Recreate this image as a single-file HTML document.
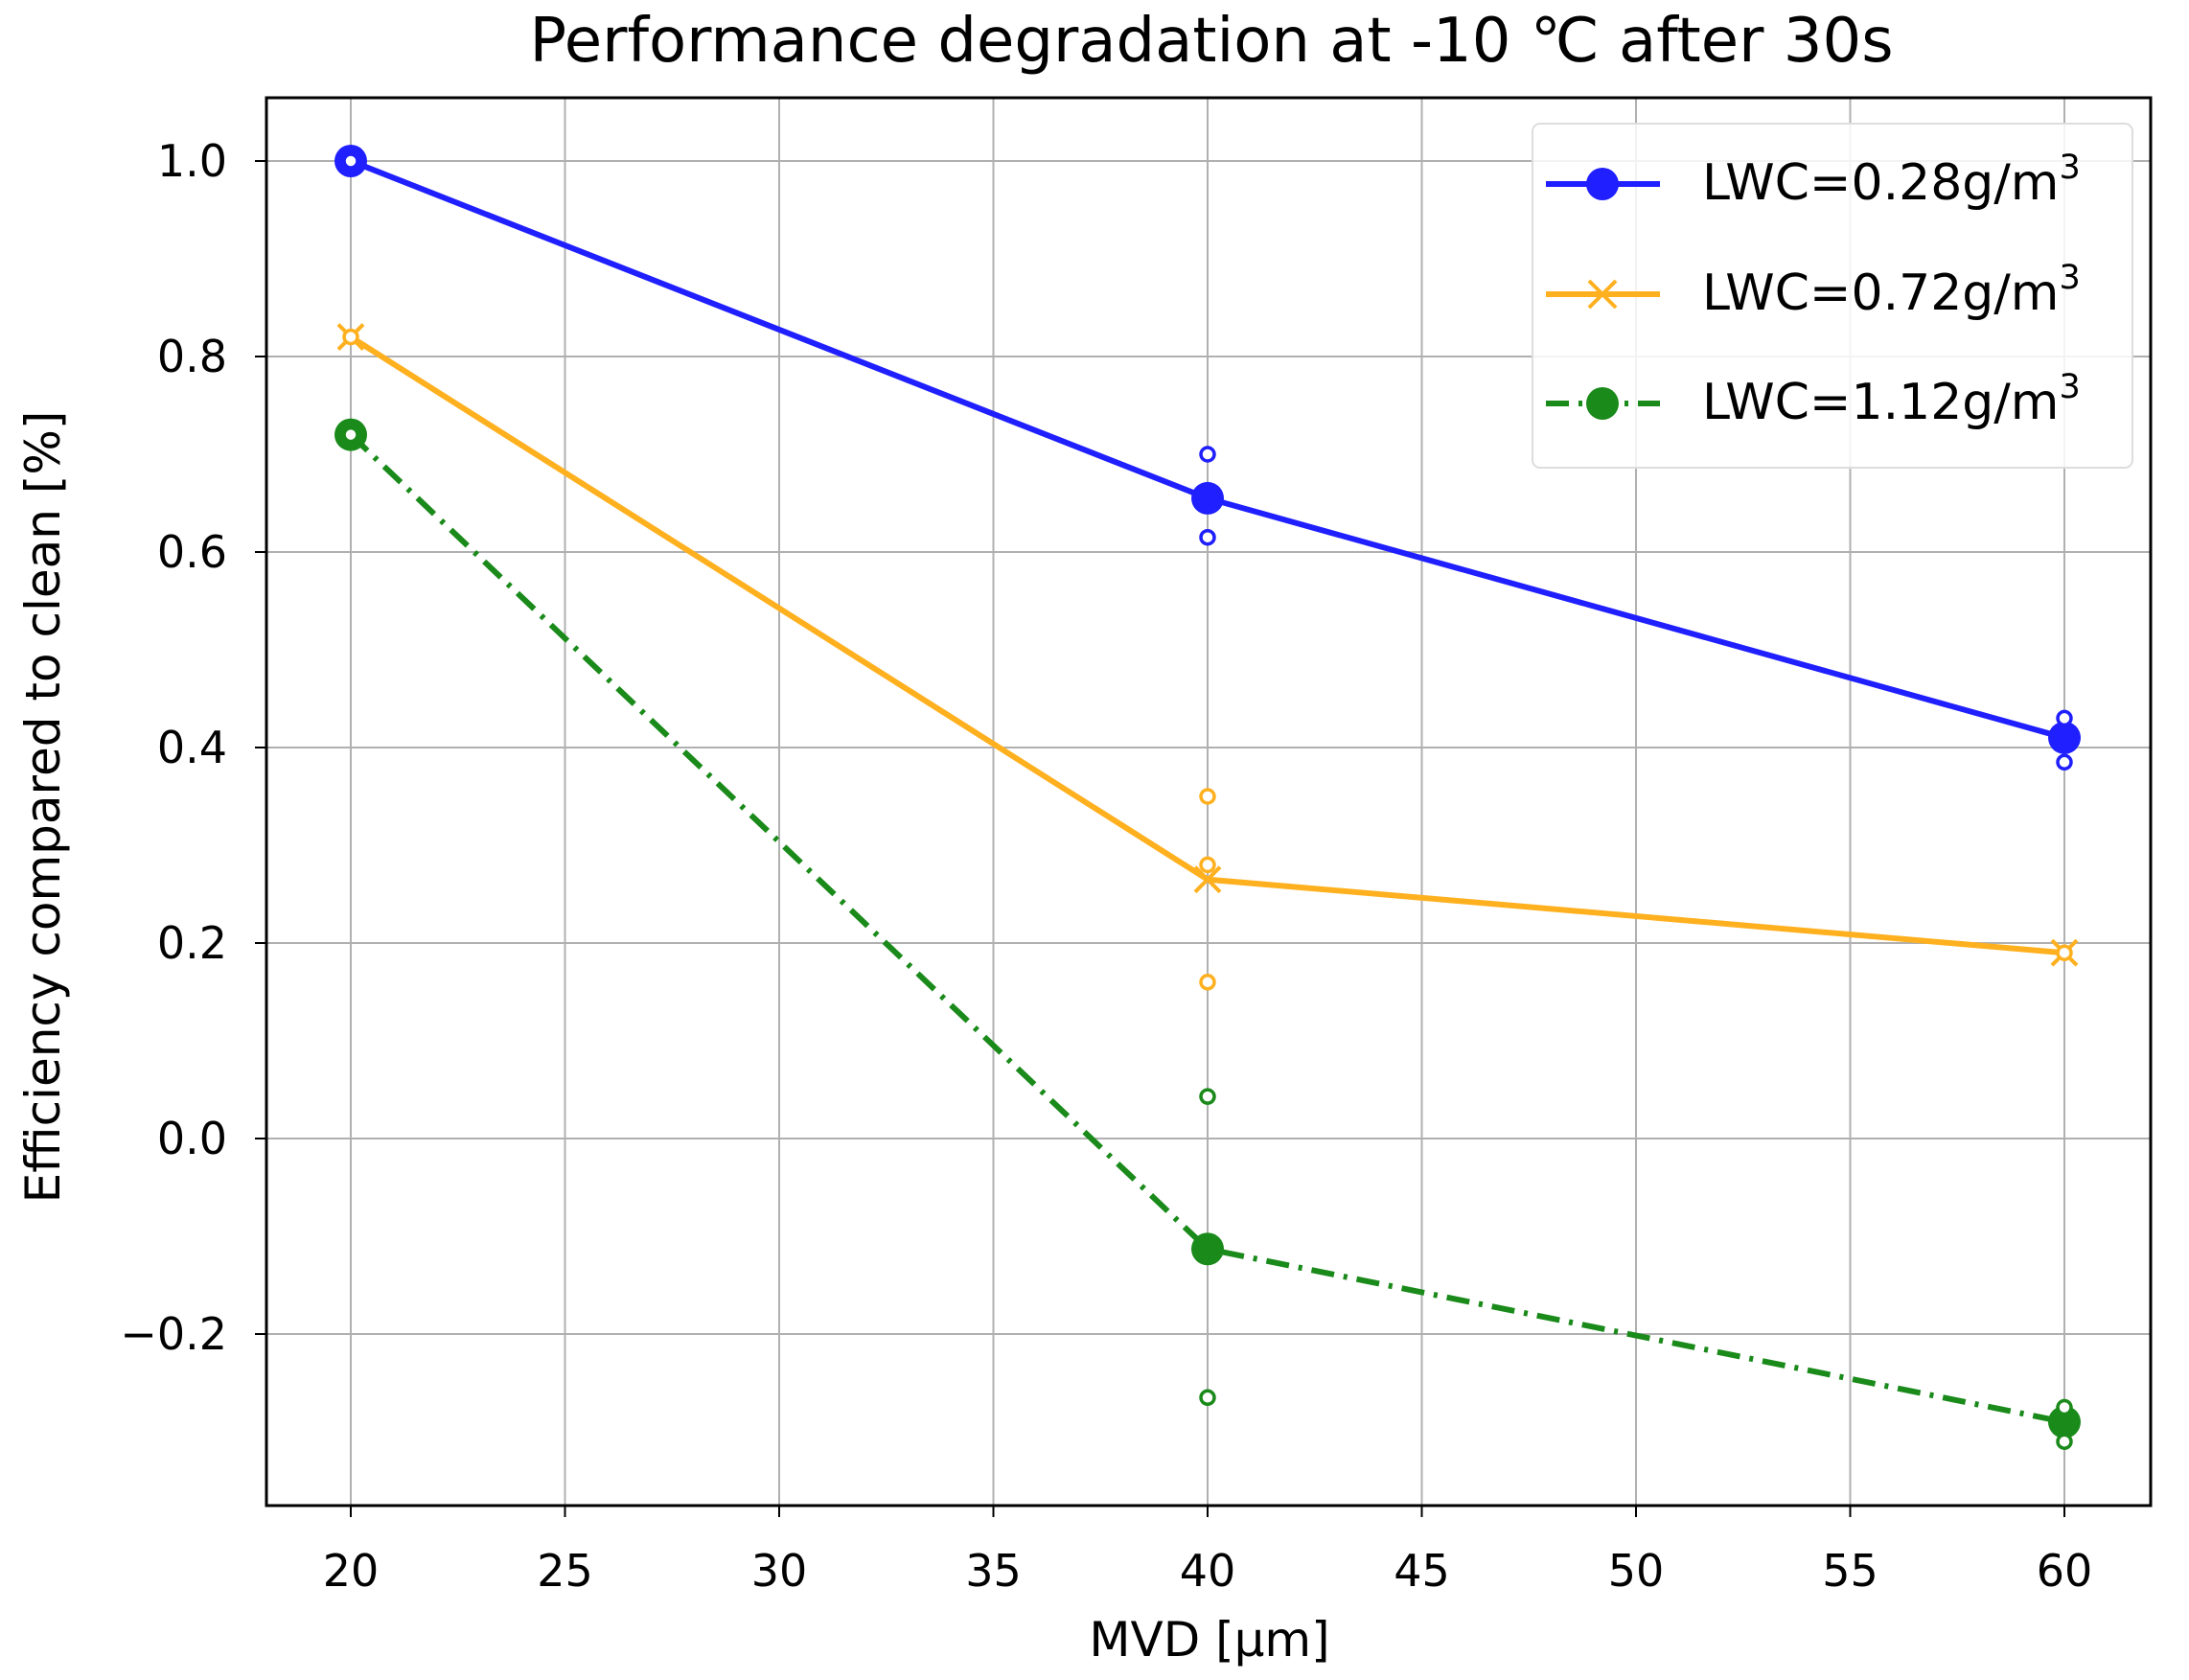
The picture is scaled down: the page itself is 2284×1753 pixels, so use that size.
<!DOCTYPE html>
<html><head><meta charset="utf-8"><style>
html,body{margin:0;padding:0;background:#fff;}
svg{display:block;font-family:"DejaVu Sans","Liberation Sans",sans-serif;}
</style></head><body>
<svg id="chart" width="2284" height="1753" viewBox="0 0 2284 1753">
<text x="1264" y="64" font-size="64" text-anchor="middle" fill="#000">Performance degradation at -10 ℃ after 30s</text>
<g id="grid"></g>
<g id="ticks"></g>
<g id="series"></g>
<rect x="278" y="102" width="1966" height="1469" fill="none" stroke="#000" stroke-width="3"/>
<text x="1262" y="1728" font-size="50" text-anchor="middle">MVD [μm]</text>
<text transform="translate(62,842) rotate(-90)" font-size="50" text-anchor="middle">Efficiency compared to clean [%]</text>
<g>
<rect x="1599" y="129" width="626" height="359" rx="8" fill="#fff" fill-opacity="0.85" stroke="#ddd" stroke-width="2"/>
<g>
<line x1="1613" y1="192" x2="1732" y2="192" stroke="#1f1fff" stroke-width="6"/>
<circle cx="1672" cy="192" r="17" fill="#1f1fff"/>
<text x="1776" y="208" font-size="52">LWC=0.28g/m<tspan dy="-22" font-size="35">3</tspan></text>
</g>
<g>
<line x1="1613" y1="307" x2="1732" y2="307" stroke="#ffb01f" stroke-width="6"/>
<path d="M1658 293 L1686 321 M1686 293 L1658 321" stroke="#ffb01f" stroke-width="4"/>
<text x="1776" y="323" font-size="52">LWC=0.72g/m<tspan dy="-22" font-size="35">3</tspan></text>
</g>
<g>
<line x1="1613" y1="421" x2="1732" y2="421" stroke="#1a8a1a" stroke-width="6" stroke-dasharray="24,10,4,10"/>
<circle cx="1672" cy="421" r="17" fill="#1a8a1a"/>
<text x="1776" y="437" font-size="52">LWC=1.12g/m<tspan dy="-22" font-size="35">3</tspan></text>
</g>
</g>
</svg>
<script>
const xCats = [20, 40, 60];
const xTicks = [20, 25, 30, 35, 40, 45, 50, 55, 60];
const yTicks = [-0.2, 0.0, 0.2, 0.4, 0.6, 0.8, 1.0];
const yTickLabels = ["\u22120.2", "0.0", "0.2", "0.4", "0.6", "0.8", "1.0"];
const blueVals = [1.0, 0.655, 0.41];
const orangeVals = [0.82, 0.265, 0.19];
const greenVals = [0.72, -0.113, -0.29];
const blueSpread = [[1.0], [0.70, 0.615], [0.43, 0.385]];
const orangeSpread = [[0.82], [0.35, 0.28, 0.16], [0.19]];
const greenSpread = [[0.72], [0.043, -0.265], [-0.275, -0.31]];

const NS = "http://www.w3.org/2000/svg";
function X(v){ return 366 + (v - 20) * (2154 - 366) / 40; }
function Y(v){ return 168 + (1.0 - v) * 204 / 0.2; }
function mk(tag, attrs, parent){ const e = document.createElementNS(NS, tag); for (const k in attrs) e.setAttribute(k, attrs[k]); parent.appendChild(e); return e; }

const grid = document.getElementById('grid');
const ticks = document.getElementById('ticks');
xTicks.forEach(t => {
  const l = mk('line', {x1: X(t), x2: X(t), y1: 102, y2: 1571, stroke: '#b0b0b0', 'stroke-width': 2}, grid);
  
  
  const tk = mk('line', {x1: X(t), x2: X(t), y1: 1571, y2: 1583, stroke: '#000', 'stroke-width': 2}, ticks);
  
  
  const tx = mk('text', {x: X(t), y: 1655, 'font-size': 46, 'text-anchor': 'middle'}, ticks);
  tx.textContent = t;
  
  
});
yTicks.forEach((t, i) => {
  const l = mk('line', {x1: 278, x2: 2244, y1: Y(t), y2: Y(t), stroke: '#b0b0b0', 'stroke-width': 2}, grid);
  
  
  const tk = mk('line', {x1: 266, x2: 278, y1: Y(t), y2: Y(t), stroke: '#000', 'stroke-width': 2}, ticks);
  
  
  const tx = mk('text', {x: 237, y: Y(t) + 16, 'font-size': 46, 'text-anchor': 'end'}, ticks);
  tx.textContent = yTickLabels[i];
  
  
});

const series = document.getElementById('series');
function drawSeries(vals, spread, color, dash, marker, name){
  const g = mk('g', {}, series);
  
  
  const pts = vals.map((v, i) => X(xCats[i]) + ',' + Y(v)).join(' ');
  const pl = mk('polyline', {points: pts, fill: 'none', stroke: color, 'stroke-width': 6, 'stroke-dasharray': dash}, g);
  
  
  vals.forEach((v, i) => {
    const cx = X(xCats[i]), cy = Y(v);
    let m;
    if (marker === 'x') {
      m = mk('path', {d: `M${cx-13} ${cy-13} L${cx+13} ${cy+13} M${cx+13} ${cy-13} L${cx-13} ${cy+13}`, stroke: color, 'stroke-width': 4}, g);
    } else {
      m = mk('circle', {cx: cx, cy: cy, r: 17, fill: color}, g);
    }
    
    
    spread[i].forEach(s => {
      const c = mk('circle', {cx: cx, cy: Y(s), r: 7, fill: '#fff', stroke: color, 'stroke-width': 3.5}, g);
      
      
    });
  });
}
drawSeries(blueVals, blueSpread, '#1f1fff', 'none', 'o', 'series-lwc-028');
drawSeries(orangeVals, orangeSpread, '#ffb01f', 'none', 'x', 'series-lwc-072');
drawSeries(greenVals, greenSpread, '#1a8a1a', '24,10,4,10', 'o', 'series-lwc-112');
</script>
</body></html>
